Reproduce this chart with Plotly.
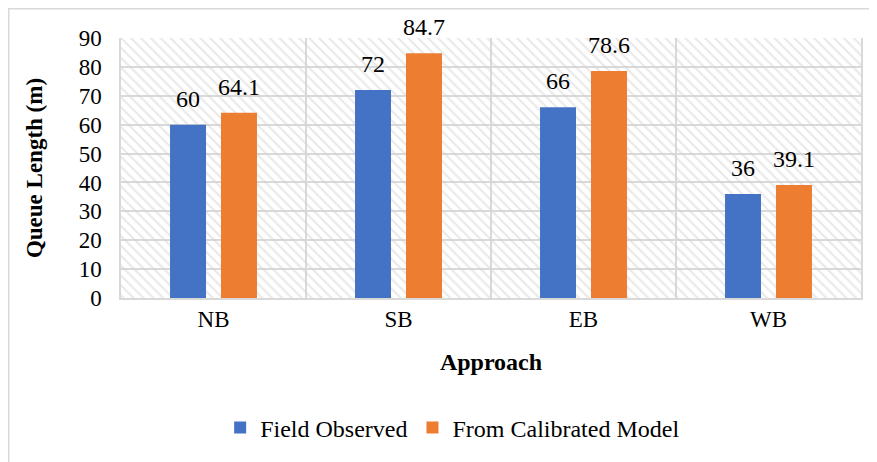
import plotly.graph_objects as go

categories = ["NB", "SB", "EB", "WB"]
field_observed = [60, 72, 66, 36]
calibrated_model = [64.1, 84.7, 78.6, 39.1]
series_names = ["Field Observed", "From Calibrated Model"]
y_ticks = [0, 10, 20, 30, 40, 50, 60, 70, 80, 90]

FONT = "Liberation Serif"
GRID = "#d9d9d9"
COLORS = ["#4472C4", "#ED7D31"]

W, H = 869, 454          # page body has an 8px margin
L, R, T, B = 113, 16, 30, 164
PW, PH = W - L - R, H - T - B
BARGAP, BARGROUPGAP = 0.449, 0.294

fig = go.Figure()

# hatched plot-area background (decoration)
fig.add_trace(go.Bar(
    x=[0.5], y=[max(y_ticks)], width=[1], xaxis="x", yaxis="y",
    marker=dict(color="rgba(0,0,0,0)", line=dict(width=0),
                pattern=dict(shape="\\", size=7, solidity=0.3,
                             fgcolor="#d2d2d2", bgcolor="rgba(0,0,0,0)",
                             fillmode="overlay")),
    showlegend=False, hoverinfo="skip",
))

series = [field_observed, calibrated_model]
for name, vals, col in zip(series_names, series, COLORS):
    fig.add_trace(go.Bar(
        x=categories, y=vals, name=name, xaxis="x2", yaxis="y",
        marker=dict(color=col, line=dict(width=0)),
    ))

# data labels, placed over each bar's slot within its group
slot = (1 - BARGAP) / len(series)
annotations = []
for k, vals in enumerate(series):
    off = -(1 - BARGAP) / 2 + slot * (k + 0.5)
    for j, v in enumerate(vals):
        annotations.append(dict(
            x=j + off, y=v, xref="x2", yref="y", text=str(v),
            showarrow=False, yanchor="bottom", yshift=11,
            font=dict(family=FONT, size=24, color="#000000")))

fig.update_layout(
    width=W, height=H,
    margin=dict(l=L, r=R, t=T, b=B, autoexpand=False),
    paper_bgcolor="white", plot_bgcolor="white",
    barmode="group", bargap=BARGAP, bargroupgap=BARGROUPGAP,
    font=dict(family=FONT, size=23, color="#000000"),
    xaxis=dict(range=[0, 1], showgrid=False, zeroline=False,
               showticklabels=False, showline=False, fixedrange=True),
    xaxis2=dict(overlaying="x", anchor="y", side="bottom",
                type="category", tickson="boundaries", showgrid=True,
                gridcolor=GRID, gridwidth=1.5, showline=True, linecolor=GRID,
                linewidth=1.5, ticks="", ticklabelstandoff=0,
                tickfont=dict(family=FONT, size=23, color="#000000"),
                title=dict(text="<b>Approach</b>", standoff=22,
                           font=dict(family=FONT, size=24, color="#000000"))),
    yaxis=dict(range=[0, 90], tickvals=y_ticks, showgrid=True,
               gridcolor=GRID, gridwidth=1.5, zeroline=False,
               showline=True, mirror=True, linecolor=GRID, linewidth=1.5,
               ticks="", ticklabelstandoff=13,
               tickfont=dict(family=FONT, size=23, color="#000000"),
               title=dict(text="<b>Queue Length (m)</b>", standoff=30,
                          font=dict(family=FONT, size=23, color="#000000"))),
    legend=dict(orientation="h", x=0.134, xanchor="left", y=-0.5,
                yanchor="middle",
                font=dict(family=FONT, size=24, color="#000000"),
                bgcolor="rgba(0,0,0,0)"),
    annotations=annotations,
    shapes=[dict(type="rect", xref="paper", yref="paper",
                 x0=(0.5 - L) / PW, x1=(W + 20 - L) / PW,
                 y0=-(H + 20 - (T + PH)) / PH, y1=(T + PH - 0.5) / PH,
                 line=dict(color=GRID, width=2), fillcolor="rgba(0,0,0,0)",
                 layer="below")],
)

fig.write_html("out.html")
